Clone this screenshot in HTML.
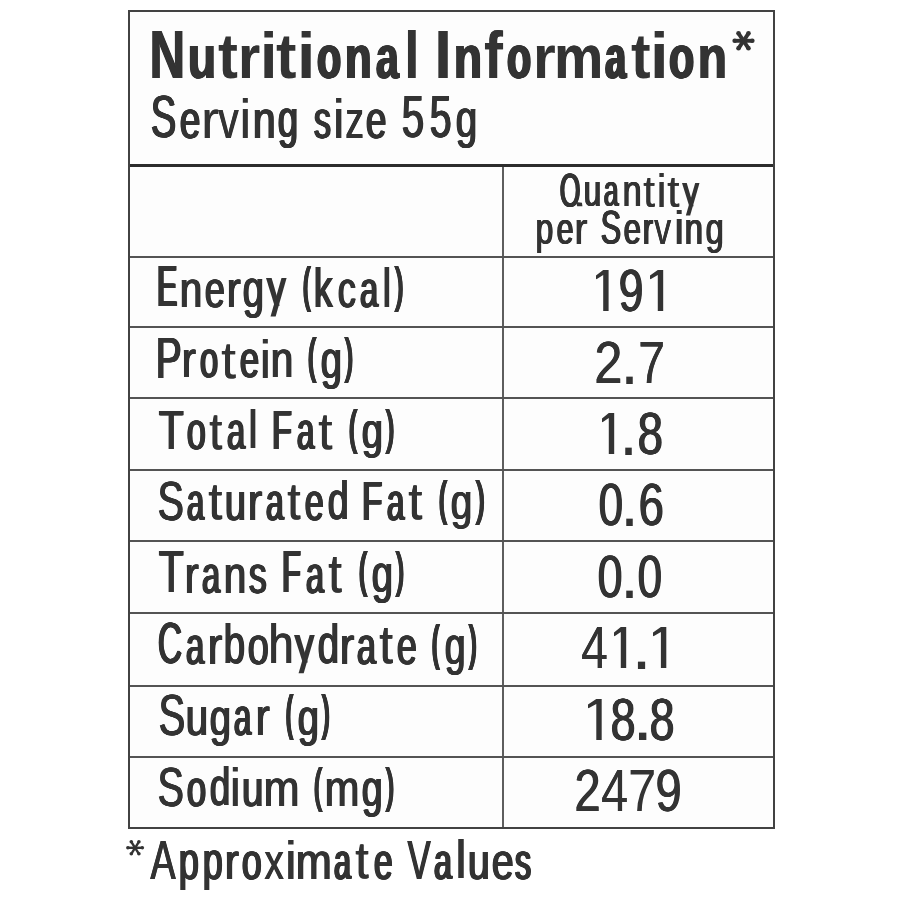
<!DOCTYPE html>
<html><head><meta charset="utf-8"><title>Nutritional Information</title><style>
html,body{margin:0;padding:0;background:#fff;}
body{width:900px;height:900px;position:relative;overflow:hidden;font-family:"Liberation Sans",sans-serif;color:#333333;}
.bg{position:absolute;left:128px;top:10px;width:647px;height:819px;background:#fdfdfd;}
.r{position:absolute;}
.g{position:absolute;white-space:nowrap;transform-origin:0 0;}
.s{position:absolute;overflow:visible;}
#tx{position:absolute;left:0;top:0;width:900px;height:900px;will-change:transform;}
</style></head><body>
<div class="bg"></div>
<div class="r" style="left:502px;top:167px;width:2px;height:662px;background:#5e5e5e"></div>
<div class="r" style="left:128px;top:256px;width:647px;height:2px;background:#545454"></div>
<div class="r" style="left:128px;top:326px;width:647px;height:2px;background:#545454"></div>
<div class="r" style="left:128px;top:397px;width:647px;height:2px;background:#545454"></div>
<div class="r" style="left:128px;top:469px;width:647px;height:2px;background:#545454"></div>
<div class="r" style="left:128px;top:540px;width:647px;height:2px;background:#545454"></div>
<div class="r" style="left:128px;top:612px;width:647px;height:2px;background:#545454"></div>
<div class="r" style="left:128px;top:685px;width:647px;height:2px;background:#545454"></div>
<div class="r" style="left:128px;top:756px;width:647px;height:2px;background:#545454"></div>
<div class="r" style="left:128px;top:164px;width:647px;height:3px;background:#2c2c2c"></div>
<div class="r" style="left:128px;top:10px;width:647px;height:2px;background:#424242"></div>
<div class="r" style="left:128px;top:827px;width:647px;height:2px;background:#424242"></div>
<div class="r" style="left:128px;top:10px;width:2px;height:819px;background:#424242"></div>
<div class="r" style="left:773px;top:10px;width:2px;height:819px;background:#424242"></div>
<div id="tx">
<div class="g" style="left:149.08px;top:21.00px;font-size:68.75px;line-height:68.75px;font-weight:bold;text-shadow:0.57px 0 0 #333333,1.13px 0 0 #333333,1.70px 0 0 #333333;transform:scale(0.7151,1.0000)">N</div>
<div class="g" style="left:186.82px;top:27.43px;font-size:68.75px;line-height:68.75px;font-weight:bold;text-shadow:0.61px 0 0 #333333,1.21px 0 0 #333333,1.82px 0 0 #333333,2.43px 0 0 #333333;transform:scale(0.6713,0.8872)">u</div>
<div class="g" style="left:217.75px;top:25.56px;font-size:68.75px;line-height:68.75px;font-weight:bold;transform:scale(0.8704,0.9200)">t</div>
<div class="g" style="left:238.13px;top:27.43px;font-size:68.75px;line-height:68.75px;font-weight:bold;text-shadow:0.27px 0 0 #333333;transform:scale(0.8203,0.8872)">r</div>
<div class="g" style="left:260.22px;top:23.85px;font-size:68.75px;line-height:68.75px;font-weight:bold;transform:scale(0.9098,0.9500)">i</div>
<div class="g" style="left:276.43px;top:25.56px;font-size:68.75px;line-height:68.75px;font-weight:bold;transform:scale(0.8940,0.9200)">t</div>
<div class="g" style="left:297.07px;top:23.85px;font-size:68.75px;line-height:68.75px;font-weight:bold;transform:scale(0.9626,0.9500)">i</div>
<div class="g" style="left:315.63px;top:27.43px;font-size:68.75px;line-height:68.75px;font-weight:bold;text-shadow:0.64px 0 0 #333333,1.27px 0 0 #333333,1.91px 0 0 #333333,2.54px 0 0 #333333,3.18px 0 0 #333333,3.81px 0 0 #333333;transform:scale(0.5715,0.8872)">o</div>
<div class="g" style="left:343.57px;top:27.43px;font-size:68.75px;line-height:68.75px;font-weight:bold;text-shadow:0.63px 0 0 #333333,1.26px 0 0 #333333,1.89px 0 0 #333333,2.52px 0 0 #333333,3.15px 0 0 #333333;transform:scale(0.6330,0.8872)">n</div>
<div class="g" style="left:375.38px;top:27.43px;font-size:68.75px;line-height:68.75px;font-weight:bold;text-shadow:0.66px 0 0 #333333,1.33px 0 0 #333333,1.99px 0 0 #333333,2.65px 0 0 #333333,3.32px 0 0 #333333;transform:scale(0.5936,0.8872)">a</div>
<div class="g" style="left:404.03px;top:23.00px;font-size:68.75px;line-height:68.75px;font-weight:bold;transform:scale(0.8251,0.9650)">l</div>
<div class="g" style="left:434.29px;top:21.00px;font-size:68.75px;line-height:68.75px;font-weight:bold;transform:scale(0.9493,1.0000)">I</div>
<div class="g" style="left:452.50px;top:27.43px;font-size:68.75px;line-height:68.75px;font-weight:bold;text-shadow:0.61px 0 0 #333333,1.22px 0 0 #333333,1.83px 0 0 #333333,2.44px 0 0 #333333;transform:scale(0.6707,0.8872)">n</div>
<div class="g" style="left:483.72px;top:23.00px;font-size:68.75px;line-height:68.75px;font-weight:bold;text-shadow:0.29px 0 0 #333333;transform:scale(0.8184,0.9650)">f</div>
<div class="g" style="left:505.63px;top:27.43px;font-size:68.75px;line-height:68.75px;font-weight:bold;text-shadow:0.64px 0 0 #333333,1.27px 0 0 #333333,1.91px 0 0 #333333,2.54px 0 0 #333333,3.18px 0 0 #333333,3.81px 0 0 #333333;transform:scale(0.5715,0.8872)">o</div>
<div class="g" style="left:532.60px;top:27.43px;font-size:68.75px;line-height:68.75px;font-weight:bold;transform:scale(0.8493,0.8872)">r</div>
<div class="g" style="left:554.43px;top:27.43px;font-size:68.75px;line-height:68.75px;font-weight:bold;text-shadow:0.53px 0 0 #333333;transform:scale(0.7989,0.8872)">m</div>
<div class="g" style="left:603.58px;top:27.43px;font-size:68.75px;line-height:68.75px;font-weight:bold;text-shadow:0.65px 0 0 #333333,1.30px 0 0 #333333,1.94px 0 0 #333333,2.59px 0 0 #333333,3.24px 0 0 #333333,3.89px 0 0 #333333,4.53px 0 0 #333333;transform:scale(0.5420,0.8872)">a</div>
<div class="g" style="left:630.66px;top:25.56px;font-size:68.75px;line-height:68.75px;font-weight:bold;transform:scale(0.8562,0.9200)">t</div>
<div class="g" style="left:650.32px;top:23.85px;font-size:68.75px;line-height:68.75px;font-weight:bold;transform:scale(0.9732,0.9500)">i</div>
<div class="g" style="left:668.05px;top:27.43px;font-size:68.75px;line-height:68.75px;font-weight:bold;text-shadow:0.63px 0 0 #333333,1.26px 0 0 #333333,1.89px 0 0 #333333,2.53px 0 0 #333333,3.16px 0 0 #333333;transform:scale(0.6010,0.8872)">o</div>
<div class="g" style="left:696.59px;top:27.43px;font-size:68.75px;line-height:68.75px;font-weight:bold;text-shadow:0.67px 0 0 #333333,1.34px 0 0 #333333,2.01px 0 0 #333333;transform:scale(0.6958,0.8872)">n</div>
<div class="g" style="left:150.48px;top:88.30px;font-size:59.01px;line-height:59.01px;text-shadow:0.62px 0 0 #333333,1.24px 0 0 #333333,1.87px 0 0 #333333,2.49px 0 0 #333333;transform:scale(0.6480,1.0000)">S</div>
<div class="g" style="left:179.44px;top:92.71px;font-size:59.01px;line-height:59.01px;text-shadow:0.56px 0 0 #333333,1.12px 0 0 #333333,1.68px 0 0 #333333,2.25px 0 0 #333333,2.81px 0 0 #333333;transform:scale(0.6221,0.9100)">e</div>
<div class="g" style="left:200.80px;top:92.71px;font-size:59.01px;line-height:59.01px;text-shadow:0.62px 0 0 #333333;transform:scale(0.9045,0.9100)">r</div>
<div class="g" style="left:218.30px;top:92.71px;font-size:59.01px;line-height:59.01px;text-shadow:0.54px 0 0 #333333,1.07px 0 0 #333333;transform:scale(0.6869,0.9100)">v</div>
<div class="g" style="left:239.14px;top:90.75px;font-size:59.01px;line-height:59.01px;transform:scale(0.9683,0.9500)">i</div>
<div class="g" style="left:251.64px;top:92.71px;font-size:59.01px;line-height:59.01px;text-shadow:0.60px 0 0 #333333,1.19px 0 0 #333333,1.79px 0 0 #333333,2.38px 0 0 #333333;transform:scale(0.6920,0.9100)">n</div>
<div class="g" style="left:276.96px;top:92.96px;font-size:59.01px;line-height:59.01px;text-shadow:0.58px 0 0 #333333,1.16px 0 0 #333333,1.74px 0 0 #333333,2.33px 0 0 #333333,2.91px 0 0 #333333;transform:scale(0.6143,0.9050)">g</div>
<div class="g" style="left:312.57px;top:92.71px;font-size:59.01px;line-height:59.01px;text-shadow:0.70px 0 0 #333333,1.39px 0 0 #333333,2.09px 0 0 #333333,2.78px 0 0 #333333,3.48px 0 0 #333333;transform:scale(0.5734,0.9100)">s</div>
<div class="g" style="left:332.11px;top:90.75px;font-size:59.01px;line-height:59.01px;transform:scale(1.0264,0.9500)">i</div>
<div class="g" style="left:344.73px;top:92.71px;font-size:59.01px;line-height:59.01px;text-shadow:0.58px 0 0 #333333,1.16px 0 0 #333333,1.73px 0 0 #333333;transform:scale(0.6210,0.9100)">z</div>
<div class="g" style="left:364.63px;top:92.71px;font-size:59.01px;line-height:59.01px;text-shadow:0.69px 0 0 #333333,1.38px 0 0 #333333,2.06px 0 0 #333333,2.75px 0 0 #333333;transform:scale(0.6265,0.9100)">e</div>
<div class="g" style="left:401.09px;top:88.30px;font-size:59.01px;line-height:59.01px;text-shadow:0.70px 0 0 #333333,1.39px 0 0 #333333,2.09px 0 0 #333333;transform:scale(0.6839,1.0000)">5</div>
<div class="g" style="left:428.64px;top:88.30px;font-size:59.01px;line-height:59.01px;text-shadow:0.58px 0 0 #333333,1.16px 0 0 #333333,1.75px 0 0 #333333,2.33px 0 0 #333333;transform:scale(0.6621,1.0000)">5</div>
<div class="g" style="left:455.07px;top:92.96px;font-size:59.01px;line-height:59.01px;text-shadow:0.61px 0 0 #333333,1.22px 0 0 #333333,1.83px 0 0 #333333,2.45px 0 0 #333333;transform:scale(0.6517,0.9050)">g</div>
<div class="g" style="left:558.65px;top:165.60px;font-size:48.84px;line-height:48.84px;text-shadow:0.63px 0 0 #333333,1.26px 0 0 #333333,1.88px 0 0 #333333,2.51px 0 0 #333333,3.14px 0 0 #333333;transform:scale(0.5402,1.0000)">O</div>
<div class="g" style="left:582.86px;top:169.29px;font-size:48.84px;line-height:48.84px;text-shadow:0.57px 0 0 #333333,1.15px 0 0 #333333,1.72px 0 0 #333333,2.29px 0 0 #333333;transform:scale(0.6422,0.9100)">u</div>
<div class="g" style="left:603.38px;top:169.29px;font-size:48.84px;line-height:48.84px;text-shadow:0.63px 0 0 #333333,1.26px 0 0 #333333,1.89px 0 0 #333333,2.52px 0 0 #333333,3.15px 0 0 #333333;transform:scale(0.5395,0.9100)">a</div>
<div class="g" style="left:622.29px;top:169.29px;font-size:48.84px;line-height:48.84px;text-shadow:0.58px 0 0 #333333,1.16px 0 0 #333333,1.74px 0 0 #333333;transform:scale(0.7019,0.9100)">n</div>
<div class="g" style="left:643.47px;top:168.88px;font-size:48.84px;line-height:48.84px;text-shadow:0.60px 0 0 #333333;transform:scale(0.8654,0.9200)">t</div>
<div class="g" style="left:656.21px;top:167.65px;font-size:48.84px;line-height:48.84px;transform:scale(1.0297,0.9500)">i</div>
<div class="g" style="left:667.03px;top:168.88px;font-size:48.84px;line-height:48.84px;text-shadow:0.35px 0 0 #333333;transform:scale(0.9141,0.9200)">t</div>
<svg class="s" style="left:681.90px;top:182.74px" width="17.50" height="32.42"><polygon points="13.19,0.00 17.50,0.00 8.16,32.42 3.85,32.42" fill="#333333"/><polygon points="0.00,0.00 4.74,0.00 11.60,23.35 7.30,23.35" fill="#333333"/></svg>
<div class="g" style="left:535.24px;top:207.29px;font-size:48.26px;line-height:48.26px;text-shadow:0.67px 0 0 #333333,1.34px 0 0 #333333,2.02px 0 0 #333333;transform:scale(0.6574,0.9050)">p</div>
<div class="g" style="left:556.02px;top:207.09px;font-size:48.26px;line-height:48.26px;text-shadow:0.59px 0 0 #333333,1.18px 0 0 #333333,1.77px 0 0 #333333,2.36px 0 0 #333333;transform:scale(0.6230,0.9100)">e</div>
<div class="g" style="left:574.09px;top:207.09px;font-size:48.26px;line-height:48.26px;text-shadow:0.59px 0 0 #333333,1.17px 0 0 #333333;transform:scale(0.8009,0.9100)">r</div>
<div class="g" style="left:599.72px;top:203.40px;font-size:48.26px;line-height:48.26px;text-shadow:0.56px 0 0 #333333,1.13px 0 0 #333333,1.69px 0 0 #333333,2.25px 0 0 #333333;transform:scale(0.6334,1.0000)">S</div>
<div class="g" style="left:623.29px;top:207.09px;font-size:48.26px;line-height:48.26px;text-shadow:0.55px 0 0 #333333,1.10px 0 0 #333333,1.64px 0 0 #333333,2.19px 0 0 #333333;transform:scale(0.6393,0.9100)">e</div>
<div class="g" style="left:642.07px;top:207.09px;font-size:48.26px;line-height:48.26px;text-shadow:0.68px 0 0 #333333,1.35px 0 0 #333333,2.03px 0 0 #333333,2.70px 0 0 #333333;transform:scale(0.6230,0.9100)">r</div>
<div class="g" style="left:654.33px;top:207.09px;font-size:48.26px;line-height:48.26px;text-shadow:0.43px 0 0 #333333,0.85px 0 0 #333333;transform:scale(0.6980,0.9100)">v</div>
<div class="g" style="left:673.02px;top:205.45px;font-size:48.26px;line-height:48.26px;transform:scale(1.1605,0.9500)">i</div>
<div class="g" style="left:684.09px;top:207.09px;font-size:48.26px;line-height:48.26px;text-shadow:0.53px 0 0 #333333,1.07px 0 0 #333333,1.60px 0 0 #333333,2.13px 0 0 #333333;transform:scale(0.6794,0.9100)">n</div>
<div class="g" style="left:705.12px;top:207.29px;font-size:48.26px;line-height:48.26px;text-shadow:0.62px 0 0 #333333,1.24px 0 0 #333333,1.86px 0 0 #333333;transform:scale(0.6745,0.9050)">g</div>
<div class="g" style="left:156.24px;top:258.24px;font-size:57.41px;line-height:57.41px;text-shadow:0.66px 0 0 #333333,1.32px 0 0 #333333,1.98px 0 0 #333333,2.64px 0 0 #333333,3.30px 0 0 #333333,3.96px 0 0 #333333,4.62px 0 0 #333333;transform:scale(0.5200,1.0076)">E</div>
<div class="g" style="left:179.26px;top:262.59px;font-size:57.41px;line-height:57.41px;text-shadow:0.70px 0 0 #333333,1.39px 0 0 #333333,2.09px 0 0 #333333;transform:scale(0.7061,0.9169)">n</div>
<div class="g" style="left:203.86px;top:262.59px;font-size:57.41px;line-height:57.41px;text-shadow:0.64px 0 0 #333333,1.27px 0 0 #333333,1.91px 0 0 #333333,2.55px 0 0 #333333;transform:scale(0.6299,0.9169)">e</div>
<div class="g" style="left:225.84px;top:262.59px;font-size:57.41px;line-height:57.41px;text-shadow:0.60px 0 0 #333333,1.19px 0 0 #333333,1.79px 0 0 #333333;transform:scale(0.7373,0.9169)">r</div>
<div class="g" style="left:241.58px;top:262.83px;font-size:57.41px;line-height:57.41px;text-shadow:0.54px 0 0 #333333,1.08px 0 0 #333333,1.61px 0 0 #333333,2.15px 0 0 #333333;transform:scale(0.6646,0.9119)">g</div>
<svg class="s" style="left:265.50px;top:278.34px" width="20.60" height="38.41"><polygon points="15.47,0.00 20.60,0.00 9.66,38.41 4.53,38.41" fill="#333333"/><polygon points="0.00,0.00 5.64,0.00 13.69,27.65 8.56,27.65" fill="#333333"/></svg>
<div class="g" style="left:301.65px;top:260.34px;font-size:57.41px;line-height:57.41px;text-shadow:0.68px 0 0 #333333,1.36px 0 0 #333333,2.05px 0 0 #333333,2.73px 0 0 #333333,3.41px 0 0 #333333,4.09px 0 0 #333333,4.78px 0 0 #333333,5.46px 0 0 #333333,6.14px 0 0 #333333;transform:scale(0.3771,0.8698)">(</div>
<div class="g" style="left:313.18px;top:259.93px;font-size:57.41px;line-height:57.41px;text-shadow:0.67px 0 0 #333333,1.35px 0 0 #333333,2.02px 0 0 #333333,2.69px 0 0 #333333;transform:scale(0.6503,0.9723)">k</div>
<div class="g" style="left:336.86px;top:262.59px;font-size:57.41px;line-height:57.41px;text-shadow:0.63px 0 0 #333333,1.26px 0 0 #333333,1.89px 0 0 #333333,2.52px 0 0 #333333;transform:scale(0.6322,0.9169)">c</div>
<div class="g" style="left:359.02px;top:262.59px;font-size:57.41px;line-height:57.41px;text-shadow:0.68px 0 0 #333333,1.35px 0 0 #333333,2.03px 0 0 #333333,2.71px 0 0 #333333,3.38px 0 0 #333333;transform:scale(0.5669,0.9169)">a</div>
<div class="g" style="left:381.15px;top:259.93px;font-size:57.41px;line-height:57.41px;transform:scale(0.9157,0.9723)">l</div>
<div class="g" style="left:394.21px;top:260.34px;font-size:57.41px;line-height:57.41px;text-shadow:0.66px 0 0 #333333,1.32px 0 0 #333333,1.98px 0 0 #333333,2.64px 0 0 #333333,3.30px 0 0 #333333,3.96px 0 0 #333333,4.62px 0 0 #333333;transform:scale(0.4367,0.8698)">)</div>
<div class="g" style="left:155.21px;top:330.19px;font-size:57.41px;line-height:57.41px;text-shadow:0.61px 0 0 #333333,1.22px 0 0 #333333,1.83px 0 0 #333333,2.44px 0 0 #333333;transform:scale(0.6725,0.9899)">P</div>
<div class="g" style="left:181.10px;top:334.46px;font-size:57.41px;line-height:57.41px;text-shadow:0.56px 0 0 #333333,1.13px 0 0 #333333,1.69px 0 0 #333333;transform:scale(0.7480,0.9008)">r</div>
<div class="g" style="left:198.62px;top:334.46px;font-size:57.41px;line-height:57.41px;text-shadow:0.68px 0 0 #333333,1.35px 0 0 #333333,2.03px 0 0 #333333,2.71px 0 0 #333333,3.38px 0 0 #333333;transform:scale(0.5670,0.9008)">o</div>
<div class="g" style="left:221.20px;top:333.99px;font-size:57.41px;line-height:57.41px;text-shadow:0.36px 0 0 #333333;transform:scale(0.9331,0.9107)">t</div>
<div class="g" style="left:238.53px;top:334.46px;font-size:57.41px;line-height:57.41px;text-shadow:0.58px 0 0 #333333,1.16px 0 0 #333333,1.73px 0 0 #333333,2.31px 0 0 #333333,2.89px 0 0 #333333;transform:scale(0.6026,0.9008)">e</div>
<div class="g" style="left:258.64px;top:332.56px;font-size:57.41px;line-height:57.41px;transform:scale(0.9953,0.9404)">i</div>
<div class="g" style="left:269.96px;top:334.46px;font-size:57.41px;line-height:57.41px;text-shadow:0.70px 0 0 #333333,1.39px 0 0 #333333,2.09px 0 0 #333333;transform:scale(0.7061,0.9008)">n</div>
<div class="g" style="left:307.24px;top:332.25px;font-size:57.41px;line-height:57.41px;text-shadow:0.67px 0 0 #333333,1.33px 0 0 #333333,2.00px 0 0 #333333,2.66px 0 0 #333333,3.33px 0 0 #333333,4.00px 0 0 #333333,4.66px 0 0 #333333,5.33px 0 0 #333333;transform:scale(0.4069,0.8545)">(</div>
<div class="g" style="left:320.08px;top:334.70px;font-size:57.41px;line-height:57.41px;text-shadow:0.54px 0 0 #333333,1.08px 0 0 #333333,1.61px 0 0 #333333,2.15px 0 0 #333333;transform:scale(0.6646,0.8958)">g</div>
<div class="g" style="left:344.22px;top:332.25px;font-size:57.41px;line-height:57.41px;text-shadow:0.64px 0 0 #333333,1.27px 0 0 #333333,1.91px 0 0 #333333,2.54px 0 0 #333333,3.18px 0 0 #333333,3.81px 0 0 #333333,4.45px 0 0 #333333,5.08px 0 0 #333333;transform:scale(0.4168,0.8545)">)</div>
<div class="g" style="left:157.78px;top:401.82px;font-size:57.41px;line-height:57.41px;text-shadow:0.67px 0 0 #333333,1.34px 0 0 #333333,2.01px 0 0 #333333;transform:scale(0.7142,0.9747)">T</div>
<div class="g" style="left:185.95px;top:406.03px;font-size:57.41px;line-height:57.41px;text-shadow:0.60px 0 0 #333333,1.20px 0 0 #333333,1.80px 0 0 #333333,2.40px 0 0 #333333,3.00px 0 0 #333333;transform:scale(0.5941,0.8870)">o</div>
<div class="g" style="left:208.72px;top:405.56px;font-size:57.41px;line-height:57.41px;text-shadow:0.68px 0 0 #333333,1.35px 0 0 #333333;transform:scale(0.7879,0.8967)">t</div>
<div class="g" style="left:226.02px;top:406.03px;font-size:57.41px;line-height:57.41px;text-shadow:0.68px 0 0 #333333,1.35px 0 0 #333333,2.03px 0 0 #333333,2.71px 0 0 #333333,3.38px 0 0 #333333;transform:scale(0.5669,0.8870)">a</div>
<div class="g" style="left:247.37px;top:403.45px;font-size:57.41px;line-height:57.41px;transform:scale(0.9356,0.9406)">l</div>
<div class="g" style="left:271.04px;top:401.82px;font-size:57.41px;line-height:57.41px;text-shadow:0.65px 0 0 #333333,1.31px 0 0 #333333,1.96px 0 0 #333333,2.61px 0 0 #333333,3.26px 0 0 #333333,3.92px 0 0 #333333;transform:scale(0.5610,0.9747)">F</div>
<div class="g" style="left:295.68px;top:406.03px;font-size:57.41px;line-height:57.41px;text-shadow:0.63px 0 0 #333333,1.25px 0 0 #333333,1.88px 0 0 #333333,2.51px 0 0 #333333,3.14px 0 0 #333333,3.76px 0 0 #333333;transform:scale(0.5424,0.8870)">a</div>
<div class="g" style="left:318.23px;top:405.56px;font-size:57.41px;line-height:57.41px;text-shadow:0.61px 0 0 #333333;transform:scale(0.8916,0.8967)">t</div>
<div class="g" style="left:348.24px;top:403.85px;font-size:57.41px;line-height:57.41px;text-shadow:0.67px 0 0 #333333,1.33px 0 0 #333333,2.00px 0 0 #333333,2.66px 0 0 #333333,3.33px 0 0 #333333,4.00px 0 0 #333333,4.66px 0 0 #333333,5.33px 0 0 #333333;transform:scale(0.4069,0.8414)">(</div>
<div class="g" style="left:361.08px;top:406.26px;font-size:57.41px;line-height:57.41px;text-shadow:0.54px 0 0 #333333,1.08px 0 0 #333333,1.61px 0 0 #333333,2.15px 0 0 #333333;transform:scale(0.6646,0.8821)">g</div>
<div class="g" style="left:385.22px;top:403.85px;font-size:57.41px;line-height:57.41px;text-shadow:0.69px 0 0 #333333,1.38px 0 0 #333333,2.08px 0 0 #333333,2.77px 0 0 #333333,3.46px 0 0 #333333,4.15px 0 0 #333333,4.85px 0 0 #333333;transform:scale(0.4268,0.8414)">)</div>
<div class="g" style="left:156.83px;top:472.72px;font-size:57.41px;line-height:57.41px;text-shadow:0.65px 0 0 #333333,1.30px 0 0 #333333,1.95px 0 0 #333333;transform:scale(0.6835,0.9747)">S</div>
<div class="g" style="left:185.60px;top:476.93px;font-size:57.41px;line-height:57.41px;text-shadow:0.65px 0 0 #333333,1.30px 0 0 #333333,1.95px 0 0 #333333,2.60px 0 0 #333333,3.25px 0 0 #333333,3.90px 0 0 #333333;transform:scale(0.5342,0.8870)">a</div>
<div class="g" style="left:207.85px;top:476.46px;font-size:57.41px;line-height:57.41px;text-shadow:0.37px 0 0 #333333,0.75px 0 0 #333333;transform:scale(0.8709,0.8967)">t</div>
<div class="g" style="left:223.94px;top:476.93px;font-size:57.41px;line-height:57.41px;text-shadow:0.65px 0 0 #333333,1.29px 0 0 #333333,1.94px 0 0 #333333,2.59px 0 0 #333333;transform:scale(0.6596,0.8870)">u</div>
<div class="g" style="left:246.62px;top:476.93px;font-size:57.41px;line-height:57.41px;text-shadow:0.50px 0 0 #333333,1.00px 0 0 #333333,1.50px 0 0 #333333;transform:scale(0.7694,0.8870)">r</div>
<div class="g" style="left:264.75px;top:476.93px;font-size:57.41px;line-height:57.41px;text-shadow:0.59px 0 0 #333333,1.19px 0 0 #333333,1.78px 0 0 #333333,2.38px 0 0 #333333,2.97px 0 0 #333333,3.57px 0 0 #333333;transform:scale(0.5547,0.8870)">a</div>
<div class="g" style="left:287.40px;top:476.46px;font-size:57.41px;line-height:57.41px;text-shadow:0.59px 0 0 #333333,1.19px 0 0 #333333;transform:scale(0.8087,0.8967)">t</div>
<div class="g" style="left:304.36px;top:476.93px;font-size:57.41px;line-height:57.41px;text-shadow:0.61px 0 0 #333333,1.23px 0 0 #333333,1.84px 0 0 #333333,2.46px 0 0 #333333,3.07px 0 0 #333333;transform:scale(0.5889,0.8870)">e</div>
<div class="g" style="left:326.80px;top:474.35px;font-size:57.41px;line-height:57.41px;text-shadow:0.56px 0 0 #333333,1.13px 0 0 #333333,1.69px 0 0 #333333,2.26px 0 0 #333333;transform:scale(0.6550,0.9406)">d</div>
<div class="g" style="left:361.38px;top:472.72px;font-size:57.41px;line-height:57.41px;text-shadow:0.62px 0 0 #333333,1.24px 0 0 #333333,1.86px 0 0 #333333,2.48px 0 0 #333333,3.10px 0 0 #333333,3.71px 0 0 #333333;transform:scale(0.5741,0.9747)">F</div>
<div class="g" style="left:386.18px;top:476.93px;font-size:57.41px;line-height:57.41px;text-shadow:0.63px 0 0 #333333,1.25px 0 0 #333333,1.88px 0 0 #333333,2.51px 0 0 #333333,3.14px 0 0 #333333,3.76px 0 0 #333333;transform:scale(0.5424,0.8870)">a</div>
<div class="g" style="left:408.45px;top:476.46px;font-size:57.41px;line-height:57.41px;text-shadow:0.37px 0 0 #333333,0.75px 0 0 #333333;transform:scale(0.8709,0.8967)">t</div>
<div class="g" style="left:438.28px;top:474.75px;font-size:57.41px;line-height:57.41px;text-shadow:0.70px 0 0 #333333,1.40px 0 0 #333333,2.09px 0 0 #333333,2.79px 0 0 #333333,3.49px 0 0 #333333,4.19px 0 0 #333333,4.89px 0 0 #333333,5.58px 0 0 #333333;transform:scale(0.3970,0.8414)">(</div>
<div class="g" style="left:450.44px;top:477.16px;font-size:57.41px;line-height:57.41px;text-shadow:0.67px 0 0 #333333,1.33px 0 0 #333333,2.00px 0 0 #333333;transform:scale(0.6790,0.8821)">g</div>
<div class="g" style="left:475.10px;top:474.75px;font-size:57.41px;line-height:57.41px;text-shadow:0.60px 0 0 #333333,1.20px 0 0 #333333,1.80px 0 0 #333333,2.40px 0 0 #333333,3.00px 0 0 #333333,3.60px 0 0 #333333,4.20px 0 0 #333333;transform:scale(0.4565,0.8414)">)</div>
<div class="g" style="left:157.78px;top:543.11px;font-size:57.41px;line-height:57.41px;text-shadow:0.67px 0 0 #333333,1.34px 0 0 #333333,2.01px 0 0 #333333;transform:scale(0.7142,1.0228)">T</div>
<div class="g" style="left:183.84px;top:547.52px;font-size:57.41px;line-height:57.41px;text-shadow:0.60px 0 0 #333333,1.19px 0 0 #333333,1.79px 0 0 #333333;transform:scale(0.7373,0.9307)">r</div>
<div class="g" style="left:201.32px;top:547.52px;font-size:57.41px;line-height:57.41px;text-shadow:0.68px 0 0 #333333,1.35px 0 0 #333333,2.03px 0 0 #333333,2.71px 0 0 #333333,3.38px 0 0 #333333;transform:scale(0.5669,0.9307)">a</div>
<div class="g" style="left:222.66px;top:547.52px;font-size:57.41px;line-height:57.41px;text-shadow:0.70px 0 0 #333333,1.39px 0 0 #333333,2.09px 0 0 #333333;transform:scale(0.7061,0.9307)">n</div>
<div class="g" style="left:247.72px;top:547.52px;font-size:57.41px;line-height:57.41px;text-shadow:0.66px 0 0 #333333,1.31px 0 0 #333333,1.97px 0 0 #333333,2.62px 0 0 #333333;transform:scale(0.6237,0.9307)">s</div>
<div class="g" style="left:281.49px;top:543.11px;font-size:57.41px;line-height:57.41px;text-shadow:0.63px 0 0 #333333,1.27px 0 0 #333333,1.90px 0 0 #333333,2.53px 0 0 #333333,3.16px 0 0 #333333,3.80px 0 0 #333333,4.43px 0 0 #333333;transform:scale(0.5306,1.0228)">F</div>
<div class="g" style="left:305.23px;top:547.52px;font-size:57.41px;line-height:57.41px;text-shadow:0.69px 0 0 #333333,1.38px 0 0 #333333,2.07px 0 0 #333333,2.76px 0 0 #333333,3.44px 0 0 #333333;transform:scale(0.5629,0.9307)">a</div>
<div class="g" style="left:328.38px;top:547.03px;font-size:57.41px;line-height:57.41px;text-shadow:0.48px 0 0 #333333,0.96px 0 0 #333333;transform:scale(0.8398,0.9410)">t</div>
<div class="g" style="left:357.94px;top:545.24px;font-size:57.41px;line-height:57.41px;text-shadow:0.67px 0 0 #333333,1.33px 0 0 #333333,2.00px 0 0 #333333,2.66px 0 0 #333333,3.33px 0 0 #333333,4.00px 0 0 #333333,4.66px 0 0 #333333,5.33px 0 0 #333333;transform:scale(0.4069,0.8829)">(</div>
<div class="g" style="left:370.78px;top:547.77px;font-size:57.41px;line-height:57.41px;text-shadow:0.54px 0 0 #333333,1.08px 0 0 #333333,1.61px 0 0 #333333,2.15px 0 0 #333333;transform:scale(0.6646,0.9256)">g</div>
<div class="g" style="left:394.92px;top:545.24px;font-size:57.41px;line-height:57.41px;text-shadow:0.64px 0 0 #333333,1.27px 0 0 #333333,1.91px 0 0 #333333,2.54px 0 0 #333333,3.18px 0 0 #333333,3.81px 0 0 #333333,4.45px 0 0 #333333,5.08px 0 0 #333333;transform:scale(0.4168,0.8829)">)</div>
<div class="g" style="left:156.63px;top:615.48px;font-size:57.41px;line-height:57.41px;text-shadow:0.63px 0 0 #333333,1.26px 0 0 #333333,1.89px 0 0 #333333,2.53px 0 0 #333333,3.16px 0 0 #333333;transform:scale(0.5827,1.0025)">C</div>
<div class="g" style="left:185.11px;top:619.81px;font-size:57.41px;line-height:57.41px;text-shadow:0.66px 0 0 #333333,1.33px 0 0 #333333,1.99px 0 0 #333333,2.66px 0 0 #333333,3.32px 0 0 #333333;transform:scale(0.5710,0.9123)">a</div>
<div class="g" style="left:207.32px;top:619.81px;font-size:57.41px;line-height:57.41px;text-shadow:0.50px 0 0 #333333,1.00px 0 0 #333333,1.50px 0 0 #333333;transform:scale(0.7694,0.9123)">r</div>
<div class="g" style="left:223.00px;top:617.16px;font-size:57.41px;line-height:57.41px;text-shadow:0.53px 0 0 #333333,1.05px 0 0 #333333,1.58px 0 0 #333333,2.10px 0 0 #333333;transform:scale(0.6694,0.9674)">b</div>
<div class="g" style="left:246.98px;top:619.81px;font-size:57.41px;line-height:57.41px;text-shadow:0.55px 0 0 #333333,1.09px 0 0 #333333,1.64px 0 0 #333333,2.18px 0 0 #333333;transform:scale(0.6619,0.9123)">o</div>
<div class="g" style="left:268.03px;top:617.16px;font-size:57.41px;line-height:57.41px;text-shadow:0.67px 0 0 #333333,1.34px 0 0 #333333;transform:scale(0.7898,0.9674)">h</div>
<svg class="s" style="left:293.60px;top:635.48px" width="20.80" height="38.21"><polygon points="15.67,0.00 20.80,0.00 9.71,38.21 4.58,38.21" fill="#333333"/><polygon points="0.00,0.00 5.64,0.00 13.80,27.51 8.67,27.51" fill="#333333"/></svg>
<div class="g" style="left:317.27px;top:617.16px;font-size:57.41px;line-height:57.41px;text-shadow:0.53px 0 0 #333333,1.05px 0 0 #333333,1.58px 0 0 #333333,2.10px 0 0 #333333;transform:scale(0.6694,0.9674)">d</div>
<div class="g" style="left:339.02px;top:619.81px;font-size:57.41px;line-height:57.41px;text-shadow:0.50px 0 0 #333333,1.00px 0 0 #333333,1.50px 0 0 #333333;transform:scale(0.7694,0.9123)">r</div>
<div class="g" style="left:356.44px;top:619.81px;font-size:57.41px;line-height:57.41px;text-shadow:0.59px 0 0 #333333,1.17px 0 0 #333333,1.76px 0 0 #333333,2.34px 0 0 #333333,2.93px 0 0 #333333;transform:scale(0.5997,0.9123)">a</div>
<div class="g" style="left:378.87px;top:619.33px;font-size:57.41px;line-height:57.41px;text-shadow:0.44px 0 0 #333333,0.89px 0 0 #333333;transform:scale(0.8502,0.9223)">t</div>
<div class="g" style="left:395.96px;top:619.81px;font-size:57.41px;line-height:57.41px;text-shadow:0.64px 0 0 #333333,1.27px 0 0 #333333,1.91px 0 0 #333333,2.55px 0 0 #333333;transform:scale(0.6299,0.9123)">e</div>
<div class="g" style="left:431.22px;top:617.57px;font-size:57.41px;line-height:57.41px;text-shadow:0.68px 0 0 #333333,1.35px 0 0 #333333,2.03px 0 0 #333333,2.70px 0 0 #333333,3.38px 0 0 #333333,4.06px 0 0 #333333,4.73px 0 0 #333333,5.41px 0 0 #333333,6.08px 0 0 #333333,6.76px 0 0 #333333;transform:scale(0.3573,0.8654)">(</div>
<div class="g" style="left:443.71px;top:620.05px;font-size:57.41px;line-height:57.41px;text-shadow:0.58px 0 0 #333333,1.16px 0 0 #333333,1.73px 0 0 #333333,2.31px 0 0 #333333;transform:scale(0.6502,0.9073)">g</div>
<div class="g" style="left:467.83px;top:617.57px;font-size:57.41px;line-height:57.41px;text-shadow:0.65px 0 0 #333333,1.30px 0 0 #333333,1.95px 0 0 #333333,2.60px 0 0 #333333,3.25px 0 0 #333333,3.90px 0 0 #333333,4.55px 0 0 #333333,5.21px 0 0 #333333,5.86px 0 0 #333333;transform:scale(0.3871,0.8654)">)</div>
<div class="g" style="left:158.01px;top:687.12px;font-size:57.41px;line-height:57.41px;text-shadow:0.62px 0 0 #333333,1.23px 0 0 #333333,1.85px 0 0 #333333;transform:scale(0.6942,0.9975)">S</div>
<div class="g" style="left:185.38px;top:691.43px;font-size:57.41px;line-height:57.41px;text-shadow:0.53px 0 0 #333333,1.07px 0 0 #333333,1.60px 0 0 #333333,2.14px 0 0 #333333;transform:scale(0.7008,0.9077)">u</div>
<div class="g" style="left:209.08px;top:691.67px;font-size:57.41px;line-height:57.41px;text-shadow:0.54px 0 0 #333333,1.08px 0 0 #333333,1.61px 0 0 #333333,2.15px 0 0 #333333;transform:scale(0.6646,0.9027)">g</div>
<div class="g" style="left:233.39px;top:691.43px;font-size:57.41px;line-height:57.41px;text-shadow:0.64px 0 0 #333333,1.28px 0 0 #333333,1.91px 0 0 #333333,2.55px 0 0 #333333,3.19px 0 0 #333333,3.83px 0 0 #333333;transform:scale(0.5383,0.9077)">a</div>
<div class="g" style="left:254.54px;top:691.43px;font-size:57.41px;line-height:57.41px;text-shadow:0.60px 0 0 #333333,1.19px 0 0 #333333,1.79px 0 0 #333333;transform:scale(0.7373,0.9077)">r</div>
<div class="g" style="left:284.99px;top:689.20px;font-size:57.41px;line-height:57.41px;text-shadow:0.68px 0 0 #333333,1.35px 0 0 #333333,2.03px 0 0 #333333,2.71px 0 0 #333333,3.39px 0 0 #333333,4.06px 0 0 #333333,4.74px 0 0 #333333,5.42px 0 0 #333333,6.10px 0 0 #333333,6.77px 0 0 #333333,7.45px 0 0 #333333;transform:scale(0.3374,0.8610)">(</div>
<div class="g" style="left:296.58px;top:691.67px;font-size:57.41px;line-height:57.41px;text-shadow:0.54px 0 0 #333333,1.08px 0 0 #333333,1.61px 0 0 #333333,2.15px 0 0 #333333;transform:scale(0.6646,0.9027)">g</div>
<div class="g" style="left:321.03px;top:689.20px;font-size:57.41px;line-height:57.41px;text-shadow:0.65px 0 0 #333333,1.30px 0 0 #333333,1.95px 0 0 #333333,2.60px 0 0 #333333,3.25px 0 0 #333333,3.90px 0 0 #333333,4.55px 0 0 #333333,5.21px 0 0 #333333,5.86px 0 0 #333333;transform:scale(0.3871,0.8610)">)</div>
<div class="g" style="left:157.13px;top:758.55px;font-size:57.41px;line-height:57.41px;text-shadow:0.65px 0 0 #333333,1.30px 0 0 #333333,1.95px 0 0 #333333;transform:scale(0.6835,0.9823)">S</div>
<div class="g" style="left:185.73px;top:762.79px;font-size:57.41px;line-height:57.41px;text-shadow:0.58px 0 0 #333333,1.15px 0 0 #333333,1.73px 0 0 #333333,2.30px 0 0 #333333,2.88px 0 0 #333333;transform:scale(0.6032,0.8939)">o</div>
<div class="g" style="left:208.94px;top:760.20px;font-size:57.41px;line-height:57.41px;text-shadow:0.61px 0 0 #333333,1.21px 0 0 #333333,1.82px 0 0 #333333,2.42px 0 0 #333333;transform:scale(0.6406,0.9479)">d</div>
<div class="g" style="left:229.44px;top:760.91px;font-size:57.41px;line-height:57.41px;transform:scale(0.9953,0.9332)">i</div>
<div class="g" style="left:241.38px;top:762.79px;font-size:57.41px;line-height:57.41px;text-shadow:0.60px 0 0 #333333,1.21px 0 0 #333333,1.81px 0 0 #333333,2.41px 0 0 #333333;transform:scale(0.6751,0.8939)">u</div>
<div class="g" style="left:263.49px;top:762.79px;font-size:57.41px;line-height:57.41px;text-shadow:0.56px 0 0 #333333,1.11px 0 0 #333333,1.67px 0 0 #333333;transform:scale(0.7501,0.8939)">m</div>
<div class="g" style="left:313.20px;top:760.60px;font-size:57.41px;line-height:57.41px;text-shadow:0.64px 0 0 #333333,1.27px 0 0 #333333,1.91px 0 0 #333333,2.54px 0 0 #333333,3.18px 0 0 #333333,3.81px 0 0 #333333,4.45px 0 0 #333333,5.08px 0 0 #333333;transform:scale(0.4168,0.8479)">(</div>
<div class="g" style="left:323.58px;top:762.79px;font-size:57.41px;line-height:57.41px;text-shadow:0.63px 0 0 #333333,1.25px 0 0 #333333,1.88px 0 0 #333333;transform:scale(0.7274,0.8939)">m</div>
<div class="g" style="left:360.90px;top:763.03px;font-size:57.41px;line-height:57.41px;text-shadow:0.56px 0 0 #333333,1.13px 0 0 #333333,1.69px 0 0 #333333,2.26px 0 0 #333333;transform:scale(0.6550,0.8890)">g</div>
<div class="g" style="left:384.52px;top:760.60px;font-size:57.41px;line-height:57.41px;text-shadow:0.64px 0 0 #333333,1.27px 0 0 #333333,1.91px 0 0 #333333,2.54px 0 0 #333333,3.18px 0 0 #333333,3.81px 0 0 #333333,4.45px 0 0 #333333,5.08px 0 0 #333333;transform:scale(0.4168,0.8479)">)</div>
<svg class="s" style="left:596.40px;top:270.30px" width="12.60" height="41.00" viewBox="0 0 12.60 41.00"><polygon points="0.00,5.54 7.20,0.00 12.60,0.00 12.60,41.00 7.20,41.00 7.20,4.92 0.50,9.23 0.00,8.82" fill="#333333"/></svg>
<div class="g" style="left:618.28px;top:261.30px;font-size:59.60px;line-height:59.60px;text-shadow:0.55px 0 0 #333333,1.11px 0 0 #333333,1.66px 0 0 #333333;transform:scale(0.7493,1.0000)">9</div>
<svg class="s" style="left:650.40px;top:270.30px" width="13.20" height="41.00" viewBox="0 0 13.20 41.00"><polygon points="0.00,5.54 7.80,0.00 13.20,0.00 13.20,41.00 7.80,41.00 7.80,4.92 0.50,9.23 0.00,8.82" fill="#333333"/></svg>
<div class="g" style="left:593.88px;top:333.40px;font-size:59.60px;line-height:59.60px;text-shadow:0.44px 0 0 #333333,0.87px 0 0 #333333;transform:scale(0.8467,1.0000)">2</div>
<div class="g" style="left:619.97px;top:325.90px;font-size:59.60px;line-height:59.60px;transform:scale(1.1480,1.1500)">.</div>
<div class="g" style="left:637.95px;top:333.40px;font-size:59.60px;line-height:59.60px;text-shadow:0.24px 0 0 #333333;transform:scale(0.8158,1.0000)">7</div>
<svg class="s" style="left:602.20px;top:413.20px" width="12.20" height="41.00" viewBox="0 0 12.20 41.00"><polygon points="0.00,5.54 6.80,0.00 12.20,0.00 12.20,41.00 6.80,41.00 6.80,4.92 0.50,9.23 0.00,8.82" fill="#333333"/></svg>
<div class="g" style="left:619.27px;top:396.70px;font-size:59.60px;line-height:59.60px;transform:scale(1.1480,1.1500)">.</div>
<div class="g" style="left:637.06px;top:404.20px;font-size:59.60px;line-height:59.60px;text-shadow:0.51px 0 0 #333333,1.01px 0 0 #333333,1.52px 0 0 #333333;transform:scale(0.7653,1.0000)">8</div>
<div class="g" style="left:597.54px;top:475.00px;font-size:59.60px;line-height:59.60px;text-shadow:0.59px 0 0 #333333,1.18px 0 0 #333333,1.77px 0 0 #333333;transform:scale(0.7377,1.0000)">0</div>
<div class="g" style="left:619.97px;top:467.50px;font-size:59.60px;line-height:59.60px;transform:scale(1.1480,1.1500)">.</div>
<div class="g" style="left:637.53px;top:475.00px;font-size:59.60px;line-height:59.60px;text-shadow:0.51px 0 0 #333333,1.03px 0 0 #333333,1.54px 0 0 #333333;transform:scale(0.7627,1.0000)">6</div>
<div class="g" style="left:597.21px;top:547.00px;font-size:59.60px;line-height:59.60px;text-shadow:0.55px 0 0 #333333,1.10px 0 0 #333333,1.65px 0 0 #333333;transform:scale(0.7506,1.0000)">0</div>
<div class="g" style="left:619.97px;top:539.50px;font-size:59.60px;line-height:59.60px;transform:scale(1.1480,1.1500)">.</div>
<div class="g" style="left:637.24px;top:547.00px;font-size:59.60px;line-height:59.60px;text-shadow:0.59px 0 0 #333333,1.18px 0 0 #333333,1.77px 0 0 #333333;transform:scale(0.7377,1.0000)">0</div>
<div class="g" style="left:581.02px;top:618.40px;font-size:59.60px;line-height:59.60px;text-shadow:0.31px 0 0 #333333;transform:scale(0.8057,1.0000)">4</div>
<svg class="s" style="left:614.40px;top:627.40px" width="12.20" height="41.00" viewBox="0 0 12.20 41.00"><polygon points="0.00,5.54 6.80,0.00 12.20,0.00 12.20,41.00 6.80,41.00 6.80,4.92 0.50,9.23 0.00,8.82" fill="#333333"/></svg>
<div class="g" style="left:630.99px;top:610.90px;font-size:59.60px;line-height:59.60px;transform:scale(1.2716,1.1500)">.</div>
<svg class="s" style="left:653.30px;top:627.40px" width="13.30" height="41.00" viewBox="0 0 13.30 41.00"><polygon points="0.00,5.54 7.90,0.00 13.30,0.00 13.30,41.00 7.90,41.00 7.90,4.92 0.50,9.23 0.00,8.82" fill="#333333"/></svg>
<svg class="s" style="left:587.70px;top:698.80px" width="13.70" height="41.00" viewBox="0 0 13.70 41.00"><polygon points="0.00,5.54 8.30,0.00 13.70,0.00 13.70,41.00 8.30,41.00 8.30,4.92 0.50,9.23 0.00,8.82" fill="#333333"/></svg>
<div class="g" style="left:609.69px;top:689.80px;font-size:59.60px;line-height:59.60px;text-shadow:0.54px 0 0 #333333,1.09px 0 0 #333333,1.63px 0 0 #333333;transform:scale(0.7522,1.0000)">8</div>
<div class="g" style="left:632.19px;top:682.30px;font-size:59.60px;line-height:59.60px;transform:scale(1.2893,1.1500)">.</div>
<div class="g" style="left:649.39px;top:689.80px;font-size:59.60px;line-height:59.60px;text-shadow:0.54px 0 0 #333333,1.09px 0 0 #333333,1.63px 0 0 #333333;transform:scale(0.7522,1.0000)">8</div>
<div class="g" style="left:574.45px;top:760.90px;font-size:59.60px;line-height:59.60px;text-shadow:0.66px 0 0 #333333,1.33px 0 0 #333333;transform:scale(0.7874,1.0000)">2</div>
<div class="g" style="left:600.61px;top:760.90px;font-size:59.60px;line-height:59.60px;text-shadow:0.26px 0 0 #333333;transform:scale(0.8137,1.0000)">4</div>
<div class="g" style="left:627.82px;top:760.90px;font-size:59.60px;line-height:59.60px;transform:scale(0.8565,1.0000)">7</div>
<div class="g" style="left:654.66px;top:760.90px;font-size:59.60px;line-height:59.60px;text-shadow:0.66px 0 0 #333333,1.31px 0 0 #333333;transform:scale(0.7896,1.0000)">9</div>
<div class="g" style="left:150.41px;top:831.70px;font-size:56.25px;line-height:56.25px;text-shadow:0.50px 0 0 #333333,0.99px 0 0 #333333,1.49px 0 0 #333333;transform:scale(0.6684,1.0000)">A</div>
<div class="g" style="left:178.46px;top:836.16px;font-size:56.25px;line-height:56.25px;text-shadow:0.57px 0 0 #333333,1.13px 0 0 #333333,1.70px 0 0 #333333,2.26px 0 0 #333333,2.83px 0 0 #333333;transform:scale(0.6396,0.9050)">p</div>
<div class="g" style="left:202.38px;top:836.16px;font-size:56.25px;line-height:56.25px;text-shadow:0.58px 0 0 #333333,1.16px 0 0 #333333,1.73px 0 0 #333333,2.31px 0 0 #333333,2.89px 0 0 #333333;transform:scale(0.6347,0.9050)">p</div>
<div class="g" style="left:224.24px;top:835.93px;font-size:56.25px;line-height:56.25px;text-shadow:0.67px 0 0 #333333,1.34px 0 0 #333333,2.02px 0 0 #333333;transform:scale(0.7526,0.9100)">r</div>
<div class="g" style="left:240.68px;top:835.93px;font-size:56.25px;line-height:56.25px;text-shadow:0.58px 0 0 #333333,1.16px 0 0 #333333,1.73px 0 0 #333333,2.31px 0 0 #333333,2.89px 0 0 #333333;transform:scale(0.6346,0.9100)">o</div>
<div class="g" style="left:263.92px;top:835.93px;font-size:56.25px;line-height:56.25px;text-shadow:0.67px 0 0 #333333,1.34px 0 0 #333333;transform:scale(0.6844,0.9100)">x</div>
<div class="g" style="left:283.83px;top:834.05px;font-size:56.25px;line-height:56.25px;transform:scale(1.0971,0.9500)">i</div>
<div class="g" style="left:294.88px;top:835.93px;font-size:56.25px;line-height:56.25px;text-shadow:0.62px 0 0 #333333,1.25px 0 0 #333333,1.87px 0 0 #333333;transform:scale(0.7685,0.9100)">m</div>
<div class="g" style="left:333.13px;top:835.93px;font-size:56.25px;line-height:56.25px;text-shadow:0.62px 0 0 #333333,1.25px 0 0 #333333,1.87px 0 0 #333333,2.50px 0 0 #333333,3.12px 0 0 #333333,3.75px 0 0 #333333,4.37px 0 0 #333333;transform:scale(0.5331,0.9100)">a</div>
<div class="g" style="left:355.39px;top:835.46px;font-size:56.25px;line-height:56.25px;text-shadow:0.66px 0 0 #333333,1.33px 0 0 #333333;transform:scale(0.8360,0.9200)">t</div>
<div class="g" style="left:372.58px;top:835.93px;font-size:56.25px;line-height:56.25px;text-shadow:0.69px 0 0 #333333,1.38px 0 0 #333333,2.07px 0 0 #333333,2.76px 0 0 #333333,3.45px 0 0 #333333;transform:scale(0.5923,0.9100)">e</div>
<div class="g" style="left:406.53px;top:831.70px;font-size:56.25px;line-height:56.25px;text-shadow:0.69px 0 0 #333333,1.38px 0 0 #333333,2.07px 0 0 #333333;transform:scale(0.6119,1.0000)">V</div>
<div class="g" style="left:433.35px;top:835.93px;font-size:56.25px;line-height:56.25px;text-shadow:0.64px 0 0 #333333,1.28px 0 0 #333333,1.91px 0 0 #333333,2.55px 0 0 #333333,3.19px 0 0 #333333,3.83px 0 0 #333333;transform:scale(0.5665,0.9100)">a</div>
<div class="g" style="left:454.06px;top:833.35px;font-size:56.25px;line-height:56.25px;transform:scale(1.1175,0.9650)">l</div>
<div class="g" style="left:467.14px;top:835.93px;font-size:56.25px;line-height:56.25px;text-shadow:0.63px 0 0 #333333,1.27px 0 0 #333333,1.90px 0 0 #333333,2.54px 0 0 #333333;transform:scale(0.6995,0.9100)">u</div>
<div class="g" style="left:490.52px;top:835.93px;font-size:56.25px;line-height:56.25px;text-shadow:0.53px 0 0 #333333,1.06px 0 0 #333333,1.59px 0 0 #333333,2.13px 0 0 #333333;transform:scale(0.7037,0.9100)">e</div>
<div class="g" style="left:513.92px;top:835.93px;font-size:56.25px;line-height:56.25px;text-shadow:0.64px 0 0 #333333,1.28px 0 0 #333333,1.92px 0 0 #333333,2.56px 0 0 #333333,3.19px 0 0 #333333,3.83px 0 0 #333333;transform:scale(0.5660,0.9100)">s</div>
<svg class="s" style="left:574.60px;top:201.40px" width="8.40" height="6.20"><polygon points="1.00,1.00 7.00,1.80 7.40,5.20 2.20,5.20" fill="#333333"/></svg>
<svg class="s" style="left:728.70px;top:28.50px" width="29.00" height="23.60"><line x1="5.68" y1="11.80" x2="23.32" y2="11.80" stroke="#333333" stroke-width="3.9"/><circle cx="5.68" cy="11.80" r="2.3" fill="#333333"/><circle cx="23.32" cy="11.80" r="2.3" fill="#333333"/><line x1="9.50" y1="4.30" x2="19.50" y2="19.30" stroke="#333333" stroke-width="3.9"/><circle cx="9.50" cy="4.30" r="2.3" fill="#333333"/><circle cx="19.50" cy="19.30" r="2.3" fill="#333333"/><line x1="9.50" y1="19.30" x2="19.50" y2="4.30" stroke="#333333" stroke-width="3.9"/><circle cx="9.50" cy="19.30" r="2.3" fill="#333333"/><circle cx="19.50" cy="4.30" r="2.3" fill="#333333"/></svg>
<svg class="s" style="left:123.20px;top:837.90px" width="24.20" height="19.60"><line x1="4.88" y1="9.80" x2="19.32" y2="9.80" stroke="#333333" stroke-width="2.4"/><circle cx="4.88" cy="9.80" r="1.8" fill="#333333"/><circle cx="19.32" cy="9.80" r="1.8" fill="#333333"/><line x1="8.30" y1="3.80" x2="15.90" y2="15.80" stroke="#333333" stroke-width="2.4"/><circle cx="8.30" cy="3.80" r="1.8" fill="#333333"/><circle cx="15.90" cy="15.80" r="1.8" fill="#333333"/><line x1="8.30" y1="15.80" x2="15.90" y2="3.80" stroke="#333333" stroke-width="2.4"/><circle cx="8.30" cy="15.80" r="1.8" fill="#333333"/><circle cx="15.90" cy="3.80" r="1.8" fill="#333333"/></svg>
</div>
</body></html>
